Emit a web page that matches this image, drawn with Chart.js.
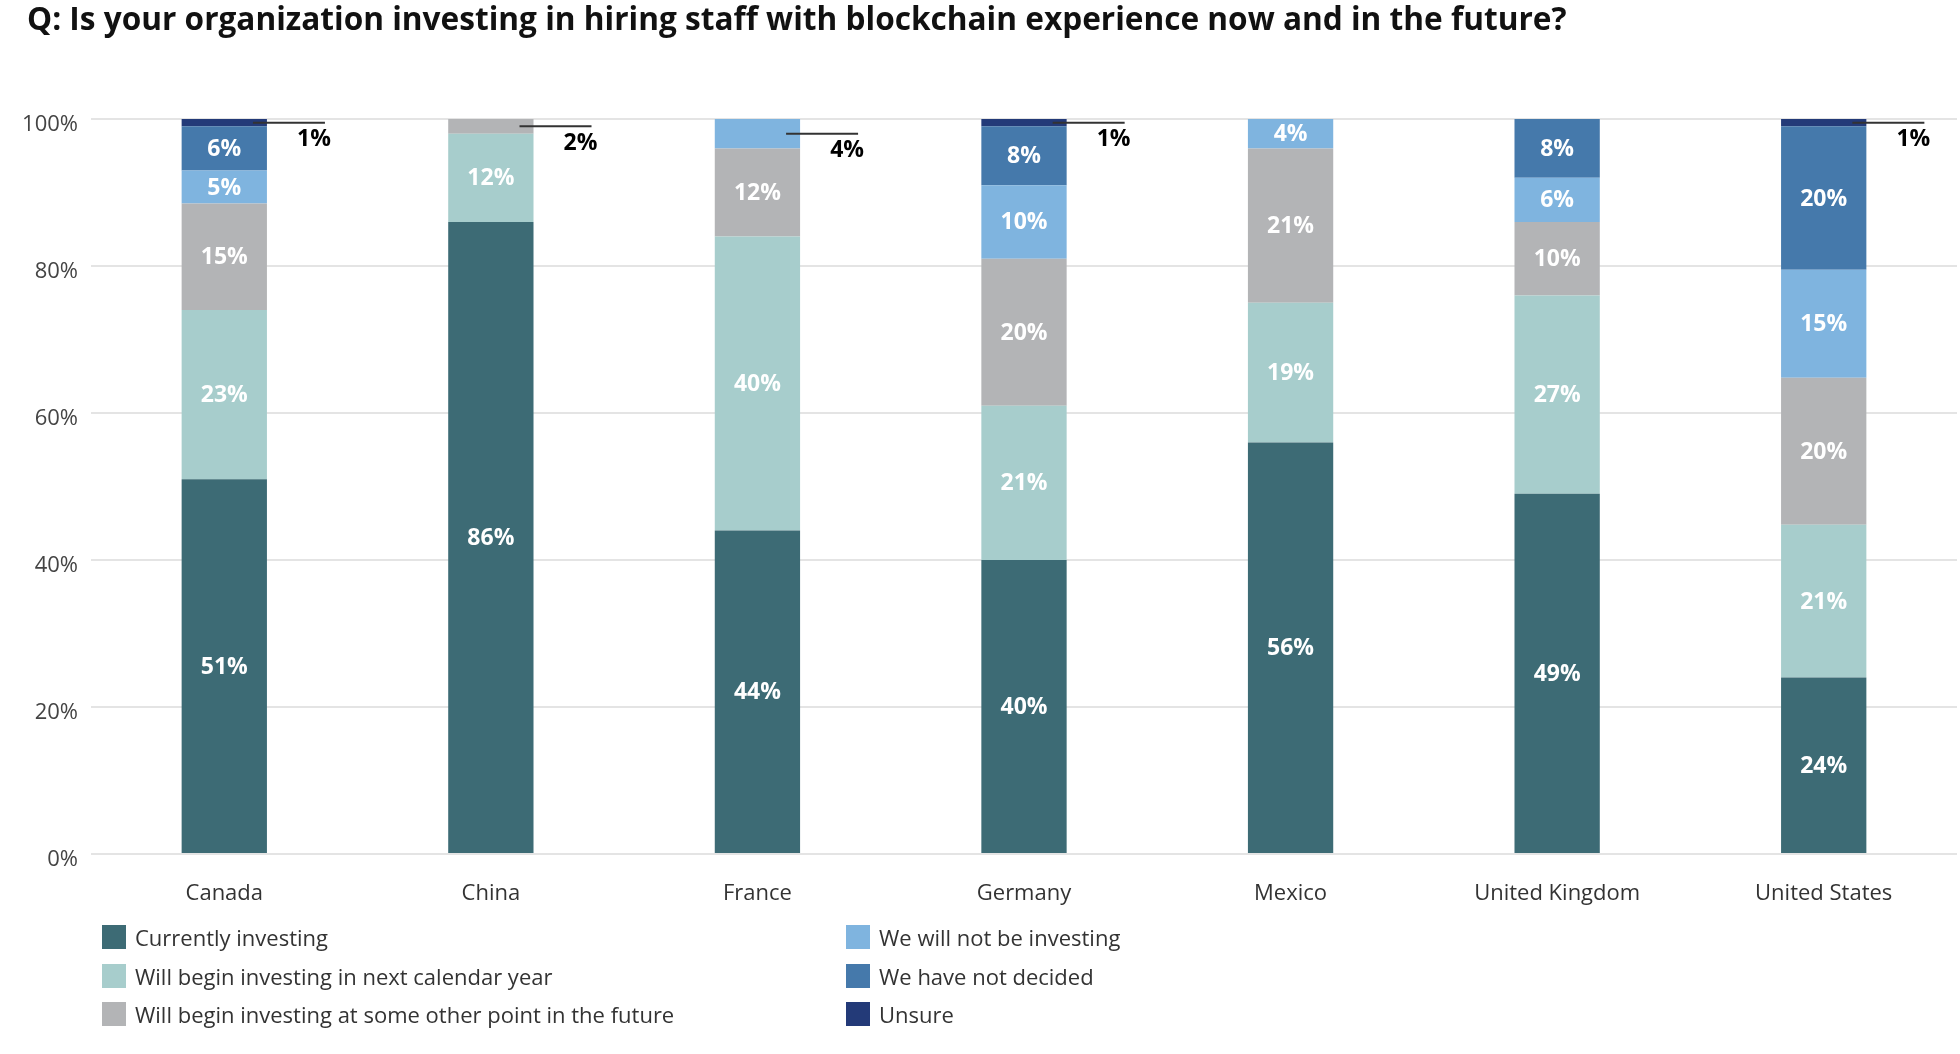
<!DOCTYPE html>
<html>
<head>
<meta charset="utf-8">
<script src="https://cdn.jsdelivr.net/npm/chart.js@4.4.1/dist/chart.umd.min.js"></script>
<style>
    html, body { margin: 0; padding: 0; background: #fff; }
    #page { position: relative; width: 1960px; height: 1054px; overflow: hidden; font-family: 'Open Sans', sans-serif; }
    #title { position: absolute; left: 27px; top: -2px; font-size: 31.6px; line-height: 40px; font-weight: 700; color: #111; white-space: nowrap; }
    #chartBox { position: absolute; left: 0; top: 0; width: 1960px; height: 1054px; }
    #legend { position: absolute; left: 102px; top: 918px; display: grid; grid-auto-flow: column; grid-template-rows: repeat(3, 38.5px); grid-template-columns: 744px 500px; }
    .item { display: flex; align-items: center; font-size: 22px; color: #333; white-space: nowrap; }
    .swatch { width: 24px; height: 24px; margin-right: 9px; }
</style>
</head>
<body>
<div id="page">
    <div id="chartBox"><canvas id="stackChart"></canvas></div>
    <div id="title">Q: Is your organization investing in hiring staff with blockchain experience now and in the future?</div>
    <div id="legend"></div>
</div>
<script>
const countries = ['Canada', 'China', 'France', 'Germany', 'Mexico', 'United Kingdom', 'United States']

// share of respondents (%) per answer
const currentlyInvesting = [51, 86, 44, 40, 56, 49, 24]
const nextCalendarYear = [23, 12, 40, 21, 19, 27, 20.8]
const otherPointFuture = [14.5, 2, 12, 20, 21, 10, 20]
const willNotInvest = [4.5, 0, 4, 10, 4, 6, 14.7]
const notDecided = [6, 0, 0, 8, 0, 8, 19.5]
const unsure = [1, 0, 0, 1, 0, 0, 1]

const yTicks = [0, 20, 40, 60, 80, 100]

// which segment gets its label outside the bar (dataset index, null = none)
const calloutSeries = [5, 2, 3, 5, null, null, 5]

const series = [
    { label: 'Currently investing', data: currentlyInvesting, color: '#3d6b75' },
    { label: 'Will begin investing in next calendar year', data: nextCalendarYear, color: '#a7cdcc' },
    { label: 'Will begin investing at some other point in the future', data: otherPointFuture, color: '#b3b4b6' },
    { label: 'We will not be investing', data: willNotInvest, color: '#7fb4df' },
    { label: 'We have not decided', data: notDecided, color: '#4579ab' },
    { label: 'Unsure', data: unsure, color: '#233a78' },
]

Chart.defaults.font.family = "'Open Sans', sans-serif"
Chart.defaults.color = '#444'

const segmentLabels = {
    id: 'segmentLabels',
    afterDatasetsDraw(chart) {
        const ctx = chart.ctx
        ctx.save()
        ctx.font = "700 23px 'Open Sans', sans-serif"
        ctx.textAlign = 'center'
        ctx.textBaseline = 'middle'
        chart.data.datasets.forEach((ds, i) => {
            const meta = chart.getDatasetMeta(i)
            meta.data.forEach((bar, j) => {
                const v = ds.data[j]
                if (!v) return
                const text = Math.round(v) + '%'
                const midY = (bar.y + bar.base) / 2
                if (calloutSeries[j] === i) {
                    const right = bar.x + bar.width / 2
                    ctx.strokeStyle = '#333'
                    ctx.lineWidth = 2
                    ctx.beginPath()
                    ctx.moveTo(right - 14, midY)
                    ctx.lineTo(right + 58, midY)
                    ctx.stroke()
                    ctx.fillStyle = '#000'
                    ctx.fillText(text, right + 47, midY + 17)
                } else {
                    ctx.fillStyle = '#fff'
                    ctx.fillText(text, bar.x, midY + 1)
                }
            })
        })
        ctx.restore()
    }
}

new Chart(document.getElementById('stackChart'), {
    type: 'bar',
    data: {
        labels: countries,
        datasets: series.map(s => ({
            label: s.label,
            data: s.data,
            backgroundColor: s.color,
            borderWidth: 0,
            categoryPercentage: 1,
            barPercentage: 0.32,
        }))
    },
    options: {
        responsive: true,
        maintainAspectRatio: false,
        animation: false,
        layout: { padding: { top: 119, right: 3, bottom: 140, left: 0 } },
        plugins: {
            legend: { display: false },
            tooltip: { enabled: false }
        },
        scales: {
            x: {
                stacked: true,
                grid: { display: false },
                border: { display: false },
                ticks: { padding: 19, color: '#333', font: { size: 22 } },
                afterFit: scale => { scale.height = 60 }
            },
            y: {
                stacked: true,
                min: 0,
                max: 100,
                afterBuildTicks: scale => { scale.ticks = yTicks.map(v => ({ value: v })) },
                grid: { color: '#e4e4e4', lineWidth: 2, drawTicks: false },
                border: { display: false },
                ticks: { padding: 13, labelOffset: 6, color: '#444', font: { size: 22 }, callback: v => v + '%' },
                afterFit: scale => { scale.width = 91 }
            }
        }
    },
    plugins: [segmentLabels]
})

const legendEl = document.getElementById('legend')
series.forEach(s => {
    const item = document.createElement('div')
    item.className = 'item'
    item.innerHTML = `<span class="swatch" style="background:${s.color}"></span>${s.label}`
    legendEl.appendChild(item)
})
</script>
</body>
</html>
